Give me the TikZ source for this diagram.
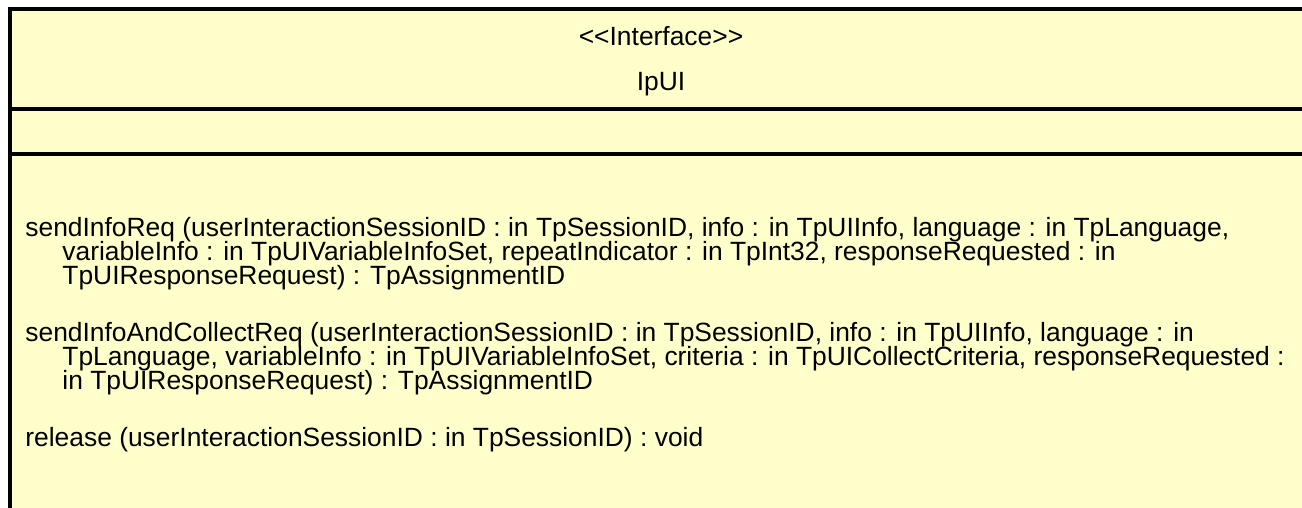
\documentclass[tikz,border=0pt]{standalone}
\usepackage{fontspec}
\setmainfont{Liberation Sans}
\usetikzlibrary{positioning}
\definecolor{umlfill}{HTML}{FFFFCC}
\newcommand{\umlfont}{\fontsize{13.2}{12}\selectfont\lineskiplimit=-50pt\relax}
\tikzset{
  frame/.style={line width=2pt,black},
  hdr/.style={anchor=base,inner sep=0pt,font=\umlfont},
  op/.style={anchor=base west,align=left,inner sep=0pt,font=\umlfont}
}
\newcommand{\opind}{\hspace*{18.5pt}}

\begin{document}
\begin{tikzpicture}[x=0.5pt,y=-0.5pt]
\clip (0,0) rectangle (1302,508);
\fill[umlfill] (10,9) rectangle (1312,520);
\draw[frame] (10,520) -- (10,9) -- (1312,9);
\draw[frame] (10,109) -- (1312,109);
\draw[frame] (10,154) -- (1312,154);
% class name
\node[hdr] (stereo) at (661,46) {<\kern0pt<Interface>\kern0pt>};
\node[hdr] (iname) at (661,91) {IpUI};
% operations (base = last line)
\node[op] (sendinfo) at (25,284) {sendInfoReq (userInteractionSessionID : in TpSessionID, info : in TpUIInfo, language : in TpLanguage,\\
\opind variableInfo : in TpUIVariableInfoSet, repeatIndicator : in TpInt32, responseRequested : in\\
\opind TpUIResponseRequest) : TpAssignmentID};
\node[op] (sendcollect) at (25,389) {sendInfoAndCollectReq (userInteractionSessionID : in TpSessionID, info : in TpUIInfo, language : in\\
\opind TpLanguage, variableInfo : in TpUIVariableInfoSet, criteria : in TpUICollectCriteria, responseRequested :\\
\opind in TpUIResponseRequest) : TpAssignmentID};
\node[op] (release) at (25,446) {release (userInteractionSessionID : in TpSessionID) : void};
\end{tikzpicture}
\end{document}
